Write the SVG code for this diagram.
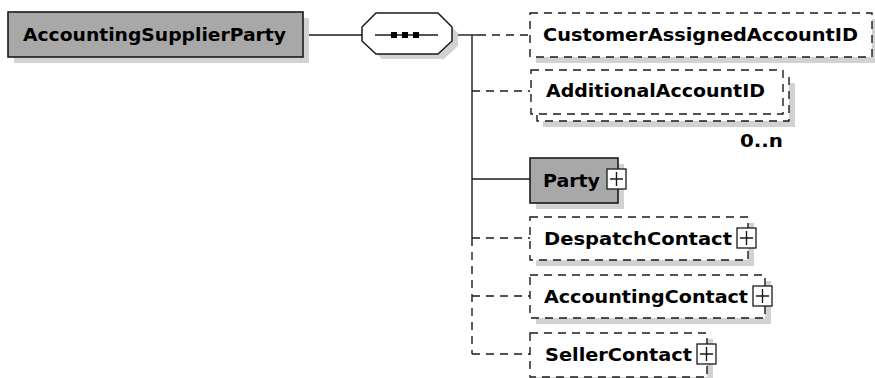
<svg xmlns="http://www.w3.org/2000/svg" width="875" height="378" viewBox="0 0 875 378">
<style>
.bg{fill:#ffffff}
.sh{fill:#d2d2d2}
.solid{fill:#a8a8a8;stroke:#1a1a1a;stroke-width:1.6}
.dash{fill:#ffffff;stroke:#1a1a1a;stroke-width:1.4;stroke-dasharray:8 6}
.ln{fill:none;stroke:#1a1a1a;stroke-width:1.4}
.lnd{fill:none;stroke:#1a1a1a;stroke-width:1.4;stroke-dasharray:8 6}
.t{font-family:"DejaVu Sans","Liberation Sans",sans-serif;font-weight:bold;font-size:17px;fill:#000}
.pb{fill:#ffffff;stroke:#1a1a1a;stroke-width:1.3}
</style>
<rect class="bg" x="0" y="0" width="875" height="378"/>
<g id="connectors">
<line class="ln" x1="303" y1="35" x2="362" y2="35"/>
<line class="ln" x1="452" y1="35" x2="478" y2="35"/>
<line class="ln" x1="472" y1="35" x2="472" y2="238"/>
<line class="lnd" x1="472" y1="238" x2="472" y2="354"/>
<line class="lnd" x1="478" y1="35" x2="530" y2="35"/>
<line class="lnd" x1="472" y1="91" x2="530" y2="91"/>
<line class="ln" x1="472" y1="179" x2="530" y2="179"/>
<line class="lnd" x1="472" y1="238" x2="530" y2="238"/>
<line class="lnd" x1="472" y1="296" x2="530" y2="296"/>
<line class="lnd" x1="472" y1="354" x2="530" y2="354"/>
</g>
<g id="AccountingSupplierParty">
<rect class="sh" x="14" y="18" width="295" height="45"/>
<rect class="solid" x="8" y="12" width="295" height="45"/>
<text class="t" x="23" y="41" font-size="18" textLength="263" lengthAdjust="spacingAndGlyphs">AccountingSupplierParty</text>
</g>
<g id="sequence">
<polygon class="sh" points="382,19 444,19 458,33 458,46 444,59 382,59 368,46 368,33"/>
<polygon fill="#ffffff" stroke="#1a1a1a" stroke-width="1.5" points="376,13 438,13 452,27 452,41 438,54 376,54 362,41 362,27"/>
<line class="ln" x1="375" y1="35" x2="438" y2="35"/>
<rect x="391" y="32" width="6" height="6" fill="#000"/>
<rect x="402" y="32" width="6" height="6" fill="#000"/>
<rect x="413" y="32" width="6" height="6" fill="#000"/>
</g>
<g id="CustomerAssignedAccountID">
<rect class="sh" x="536" y="19" width="342" height="44"/>
<rect class="dash" x="530" y="13" width="342" height="44"/>
<text class="t" x="543" y="41" textLength="315" lengthAdjust="spacingAndGlyphs">CustomerAssignedAccountID</text>
</g>
<g id="AdditionalAccountID">
<rect class="sh" x="543" y="83" width="252" height="44"/>
<rect class="dash" x="537" y="77" width="252" height="44"/>
<rect class="dash" x="531" y="70" width="252" height="44"/>
<text class="t" x="546" y="97" textLength="219" lengthAdjust="spacingAndGlyphs">AdditionalAccountID</text>
<text class="t" x="740" y="147" textLength="43" lengthAdjust="spacingAndGlyphs">0..n</text>
</g>
<g id="Party">
<rect class="sh" x="536" y="164" width="88" height="45"/>
<rect class="solid" x="530" y="158" width="88" height="45"/>
<text class="t" x="543" y="187" textLength="57" lengthAdjust="spacingAndGlyphs">Party</text>
<rect class="pb" x="607" y="169" width="19" height="20"/>
<path class="ln" d="M610,179 H623 M616.5,172 V186"/>
</g>
<g id="DespatchContact">
<rect class="sh" x="536" y="223" width="218" height="43"/>
<rect class="dash" x="530" y="217" width="218" height="43"/>
<text class="t" x="544" y="245" textLength="188" lengthAdjust="spacingAndGlyphs">DespatchContact</text>
<rect class="pb" x="737" y="228" width="19" height="20"/>
<path class="ln" d="M740,238 H753 M746.5,231 V245"/>
</g>
<g id="AccountingContact">
<rect class="sh" x="536" y="281" width="235" height="43"/>
<rect class="dash" x="530" y="275" width="235" height="43"/>
<text class="t" x="544" y="303" textLength="204" lengthAdjust="spacingAndGlyphs">AccountingContact</text>
<rect class="pb" x="753" y="286" width="19" height="20"/>
<path class="ln" d="M756,296 H769 M762.5,289 V303"/>
</g>
<g id="SellerContact">
<rect class="sh" x="536" y="339" width="177" height="44"/>
<rect class="dash" x="530" y="333" width="177" height="44"/>
<text class="t" x="545" y="361" textLength="147" lengthAdjust="spacingAndGlyphs">SellerContact</text>
<rect class="pb" x="697" y="344" width="19" height="20"/>
<path class="ln" d="M700,354 H713 M706.5,347 V361"/>
</g>
</svg>
